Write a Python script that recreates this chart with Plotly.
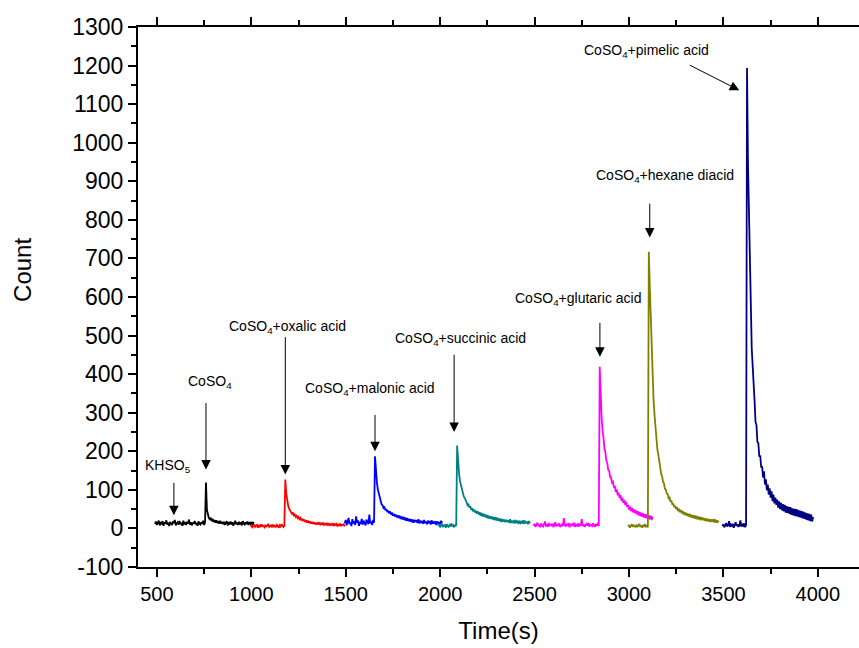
import numpy as np
import plotly.graph_objects as go

# ---------------- data ----------------
step = 5  # sampling interval (s)

black_start = 490
black_vals = [12, 18, 9, 15, 20, 8, 14, 11, 19, 7, 16, 13, 21, 10, 15, 6, 17, 12, 9, 18,
              14, 22, 8, 13, 16, 10, 19, 11, 15, 7, 20, 12, 14, 9, 17, 13, 23, 10, 16, 8,
              15, 12, 19, 11, 14, 7, 18, 13, 10, 16, 12, 20, 9, 15,
              119, 48, 33, 27, 24, 28, 19, 25, 17, 22, 15, 21, 14, 19, 12, 20, 13, 17,
              11, 17, 9, 15, 19, 8, 14, 12, 18, 10, 16, 7, 13, 20, 11, 15, 9, 17, 12, 14,
              8, 19, 13, 10, 16, 11, 18, 9, 14, 12, 17, 8, 15, 13]

red_start = 995
red_vals = [5, 8, 3, 7, 10, 4, 6, 9, 2, 7, 5, 11, 4, 8, 6, 3, 9, 5, 7, 12, 4, 6, 8, 3, 10,
            5, 7, 4, 9, 6, 2, 8, 5, 11, 6, 4, 7,
            127, 90, 72, 60, 51, 47, 42, 38, 41, 34, 36, 30, 33, 27, 30, 24, 27, 21, 25, 19,
            23, 17, 21, 15, 20, 14, 18, 13, 17, 12, 16, 11, 15, 10, 14, 12, 16, 9, 13, 11,
            15, 8, 12, 10, 14, 9, 12, 7, 11, 10, 13, 6, 11, 9, 12, 7, 10, 8, 12, 6,
            10, 9, 11, 5]

blue_start = 1495
blue_vals = [14, 22, 8, 18, 27, 11, 16, 6, 24, 13, 19, 9, 31, 15, 21, 7, 17, 12, 25, 10,
             20, 14, 8, 23, 16, 11, 36, 13, 18, 9, 22, 15,
             187, 142, 120, 101, 90, 77, 71, 62, 60, 53, 55, 47, 50, 43, 46, 39, 44, 36, 41, 33,
             38, 31, 36, 29, 34, 27, 33, 25, 31, 23, 30, 22, 28, 20, 27, 19, 25, 18, 24, 16,
             23, 15, 22, 17, 21, 14, 24, 13, 20, 16, 19, 12, 22, 14, 18, 11, 20, 15, 17, 10,
             21, 13, 16, 12, 19, 9, 18, 14, 15, 11, 20, 13]

teal_start = 1990
teal_vals = [6, 10, 3, 8, 12, 5, 7, 9, 2, 11, 6, 4, 9, 7, 13, 5, 8, 3, 10, 6,
             215, 165, 142, 123, 113, 99, 94, 83, 79, 70, 68, 60, 62, 54, 57, 48, 52, 44, 49, 41,
             46, 38, 44, 36, 42, 33, 40, 31, 38, 30, 36, 28, 35, 26, 33, 25, 31, 24, 30, 22,
             29, 21, 28, 20, 26, 19, 25, 17, 24, 18, 23, 16, 22, 17, 21, 15, 24, 14, 20, 16,
             19, 13, 22, 15, 18, 12, 20, 14, 17, 13, 21, 12, 18, 15, 16, 11, 19, 13]

magenta_start = 2495
magenta_vals = [7, 12, 4, 9, 15, 6, 10, 3, 13, 8, 5, 11, 18, 7, 9, 4, 14, 6, 10, 8,
                12, 3, 9, 16, 5, 11, 7, 13, 4, 8, 10, 6, 27, 9, 5, 12, 7, 14, 3, 10,
                8, 11, 6, 15, 4, 9, 7, 13, 5, 10, 8, 24, 6, 11, 4, 9, 12, 7, 14, 5,
                10, 8, 6, 13, 9, 4, 11, 7, 15, 6,
                419, 325, 288, 252, 236, 207, 198, 176, 170, 152, 149, 134, 132, 119, 121, 106,
                110, 95, 101, 86, 93, 79, 86, 72, 80, 66, 74, 61, 69, 56,
                61, 49, 57, 45, 54, 42, 50, 40, 47, 37, 45, 34, 43, 32, 41, 30, 39, 28, 37, 27,
                36, 25, 34, 24, 33, 22, 31]

olive_start = 2995
olive_vals = [5, 9, 2, 7, 11, 4, 8, 6, 3, 10, 5, 7, 12, 4, 8, 2, 9, 6, 11, 5, 7, 3,
              717, 630, 548, 462, 392, 334, 296, 258, 234, 206, 192, 168, 160, 142, 136, 121,
              117, 103, 101, 90, 89, 78, 80, 69, 72, 61, 65, 55, 59, 50, 55, 45, 51, 42, 48, 39,
              45, 36, 42, 34, 40, 32, 38, 30, 37, 28, 35, 27, 34, 25, 33, 24, 31, 23, 30, 21,
              29, 22, 27, 20, 26, 19, 25, 18, 24, 17, 23, 19, 22, 16, 24, 15, 21, 17, 20]

navy_start = 3495
navy_vals = [6, 11, 3, 9, 14, 5, 8, 19, 4, 10, 7, 12, 2, 9, 16, 6, 11, 4, 8, 21, 5, 10, 7, 13, 3, 9,
             1194, 950, 812, 648, 572, 466, 421, 352, 331, 276, 268, 224, 221, 186, 189, 158,
             161, 132, 148, 114, 127, 99, 114, 88, 104, 80, 96, 71, 88, 65, 80, 61, 75, 54, 70, 50,
             66, 47, 63, 44, 61, 41, 58, 40, 56, 38, 55, 35, 52, 34, 51, 32, 50, 31, 48, 29,
             46, 28, 45, 26, 43, 25, 41, 22, 39, 21, 38, 19, 36, 18, 30]

x_ticks = [500, 1000, 1500, 2000, 2500, 3000, 3500, 4000]
y_ticks = [-100, 0, 100, 200, 300, 400, 500, 600, 700, 800, 900, 1000, 1100, 1200, 1300]
y_tick_text = ["-100", "0", "100", "200", "300", "400", "500", "600", "700", "800", "900",
               "1000", "1100", "1200", "1300"]

# annotations: (label, label_x, label_y, arrow_tail_x, arrow_tail_y, arrow_tip_x, arrow_tip_y)
labels = [
    ("KHSO<sub>5</sub>", 557, 163, 590, 122, 590, 34),
    ("CoSO<sub>4</sub>", 781, 380, 760, 329, 760, 153),
    ("CoSO<sub>4</sub>+oxalic acid", 1194, 523, 1180, 500, 1180, 140),
    ("CoSO<sub>4</sub>+malonic acid", 1628, 362, 1655, 298, 1655, 200),
    ("CoSO<sub>4</sub>+succinic acid", 2109, 492, 2074, 454, 2074, 250),
    ("CoSO<sub>4</sub>+glutaric acid", 2732, 594, 2846, 537, 2846, 445),
    ("CoSO<sub>4</sub>+hexane diacid", 3189, 915, 3110, 846, 3110, 754),
    ("CoSO<sub>4</sub>+pimelic acid", 3092, 1238, 3314, 1203, 3584, 1136),
]

series = [
    (black_start, black_vals, "#000000"),
    (red_start, red_vals, "#FF0000"),
    (blue_start, blue_vals, "#0000FF"),
    (teal_start, teal_vals, "#008080"),
    (magenta_start, magenta_vals, "#FF00FF"),
    (olive_start, olive_vals, "#808000"),
    (navy_start, navy_vals, "#000080"),
]

# ---------------- figure ----------------
FONT = "Arial, Liberation Sans, sans-serif"
fig = go.Figure()
for start, vals, color in series:
    t = start + step * np.arange(len(vals))
    fig.add_trace(go.Scatter(x=t, y=vals, mode="lines",
                             line=dict(color=color, width=1.8), showlegend=False))

annotations = []
for text, lx, ly, tx, ty, hx, hy in labels:
    annotations.append(dict(x=lx, y=ly, xref="x", yref="y", text=text, showarrow=False,
                            font=dict(family=FONT, size=14, color="#000000")))
    annotations.append(dict(x=hx, y=hy, xref="x", yref="y", ax=tx, ay=ty,
                            axref="x", ayref="y", text="", showarrow=True,
                            arrowhead=2, arrowsize=1.9, arrowwidth=1, arrowcolor="#000000"))

annotations.append(dict(x=-0.161, y=0.55, xref="paper", yref="paper", text="Count",
                        textangle=-90, showarrow=False, xanchor="center", yanchor="middle",
                        font=dict(family=FONT, size=24, color="#000000")))

axis_common = dict(showline=True, linecolor="#000000", linewidth=2, ticks="outside",
                   tickcolor="#000000", tickwidth=2, ticklen=8, showgrid=False,
                   zeroline=False)

fig.update_layout(
    width=859, height=648,
    margin=dict(l=138, r=0, t=27, b=81),
    paper_bgcolor="white", plot_bgcolor="white",
    annotations=annotations,
    xaxis=dict(range=[400, 4218], tickvals=x_ticks, mirror="ticks",
               tickfont=dict(family=FONT, size=20, color="#000000"),
               minor=dict(dtick=250, tick0=0, ticks="outside", ticklen=5, tickwidth=2,
                          tickcolor="#000000"),
               title=dict(text="Time(s)", font=dict(family=FONT, size=24, color="#000000"),
                          standoff=18),
               **axis_common),
    yaxis=dict(range=[-100, 1300], tickvals=y_ticks, ticktext=y_tick_text,
               tickfont=dict(family=FONT, size=23, color="#000000"),
               minor=dict(dtick=50, tick0=0, ticks="outside", ticklen=5, tickwidth=2,
                          tickcolor="#000000"),
               **axis_common),
)

fig.write_html("out.html")
